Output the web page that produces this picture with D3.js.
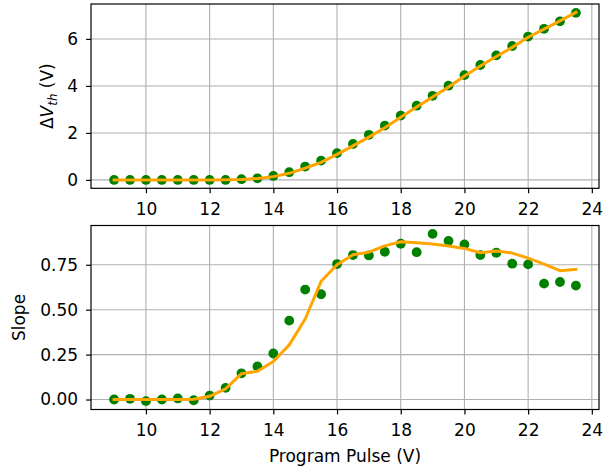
<!DOCTYPE html>
<html>
<head>
<meta charset="utf-8">
<script src="https://cdn.jsdelivr.net/npm/d3@7"></script>
<style>
html,body{margin:0;padding:0;background:#fff;}
svg{display:block;font-family:"DejaVu Sans",sans-serif;}
</style>
</head>
<body>
<svg id="chart" width="610" height="468"></svg>
<script>
// ---- data ----
const pulses = [9,9.5,10,10.5,11,11.5,12,12.5,13,13.5,14,14.5,15,15.5,16,16.5,17,17.5,18,18.5,19,19.5,20,20.5,21,21.5,22,22.5,23,23.5];
const dvthMeasured = [0,0,0,0,0,0,0,0,0.03,0.07,0.17,0.33,0.57,0.82,1.14,1.53,1.92,2.31,2.74,3.16,3.58,4.01,4.46,4.89,5.30,5.70,6.10,6.43,6.75,7.11];
const dvthFit = [0,0,0,0,0,0,0,0.005,0.02,0.06,0.14,0.28,0.50,0.75,1.09,1.45,1.82,2.22,2.67,3.10,3.53,3.95,4.42,4.85,5.25,5.64,6.07,6.42,6.77,7.13];
const slopeMeasured = [0,0.004,-0.009,0,0.006,-0.004,0.022,0.065,0.146,0.184,0.256,0.439,0.612,0.586,0.754,0.804,0.802,0.822,0.867,0.820,0.922,0.883,0.863,0.804,0.817,0.756,0.752,0.645,0.654,0.634];
const slopeFit = [0,0,0,0,0,0.002,0.018,0.059,0.144,0.157,0.212,0.304,0.448,0.658,0.750,0.806,0.820,0.855,0.878,0.872,0.865,0.855,0.841,0.817,0.826,0.815,0.787,0.754,0.717,0.724];
const xTicks = [10,12,14,16,18,20,22,24];
const yTicksTop = [0,2,4,6];
const yTicksBottom = [0,0.25,0.5,0.75];

const svg = d3.select("#chart");
const L = 91, R = 599;
const FS = 17;
const tickLen = 4.9;

function pad(ext){const s=ext[1]-ext[0];return [ext[0]-0.05*s, ext[1]+0.05*s];}
const xDom = pad(d3.extent(pulses));
const x = d3.scaleLinear().domain(xDom).range([L, R]);

function panel(y0, y1, meas, fit, yTicks, yFmt){
  const all = meas.concat(fit);
  const y = d3.scaleLinear().domain(pad(d3.extent(all))).range([y1, y0]);
  const g = svg.append("g");
  // grid
  g.append("g").selectAll("line").data(xTicks).join("line")
    .attr("x1", d=>x(d)).attr("x2", d=>x(d)).attr("y1", y0).attr("y2", y1)
    .attr("stroke", "#b0b0b0").attr("stroke-width", 1.1);
  g.append("g").selectAll("line").data(yTicks).join("line")
    .attr("x1", L).attr("x2", R).attr("y1", d=>y(d)).attr("y2", d=>y(d))
    .attr("stroke", "#b0b0b0").attr("stroke-width", 1.1);
  // points
  g.append("g").selectAll("circle").data(pulses).join("circle")
    .attr("cx", (d)=>x(d)).attr("cy", (d,i)=>y(meas[i])).attr("r", 4.9)
    .attr("fill", "#008000");
  // fit line
  g.append("path").datum(pulses)
    .attr("d", d3.line().x(d=>x(d)).y((d,i)=>y(fit[i])))
    .attr("fill", "none").attr("stroke", "#ffa500").attr("stroke-width", 3)
    .attr("stroke-linejoin", "round").attr("stroke-linecap", "square");
  // frame
  g.append("rect").attr("x", L).attr("y", y0).attr("width", R-L).attr("height", y1-y0)
    .attr("fill", "none").attr("stroke", "#000").attr("stroke-width", 1.2);
  // axes
  const xa = d3.axisBottom(x).tickValues(xTicks).tickSize(tickLen).tickPadding(10)
    .tickFormat(d3.format("d"));
  const gx = g.append("g").attr("transform", `translate(0,${y1})`).call(xa);
  const ya = d3.axisLeft(y).tickValues(yTicks).tickSize(tickLen).tickPadding(8).tickFormat(yFmt);
  const gy = g.append("g").attr("transform", `translate(${L},0)`).call(ya);
  [gx, gy].forEach(a=>{
    a.select(".domain").remove();
    a.selectAll(".tick line").attr("stroke", "#000").attr("stroke-width", 1.2);
    a.selectAll(".tick text").attr("fill", "#000").attr("font-size", FS)
      .attr("font-family", "DejaVu Sans, sans-serif");
  });
  return {y, g};
}

const panelTop = panel(4, 188.3, dvthMeasured, dvthFit, yTicksTop, d3.format("d"));
const panelBot = panel(225.5, 409.5, slopeMeasured, slopeFit, yTicksBottom, d3.format(".2f"));

// y label top: ΔV_th (V)
const t1 = svg.append("text")
  .attr("transform", `translate(53,${(4+188.3)/2}) rotate(-90)`)
  .attr("text-anchor", "middle").attr("font-size", FS).attr("fill", "#000");
t1.append("tspan").text("Δ");
t1.append("tspan").attr("font-style", "italic").text("V");
t1.append("tspan").attr("font-style", "italic").attr("font-size", FS*0.7).attr("dy", 3.5).text("th");
t1.append("tspan").attr("dy", -3.5).text(" (V)");

svg.append("text")
  .attr("transform", `translate(25,${(225.5+409.5)/2}) rotate(-90)`)
  .attr("text-anchor", "middle").attr("font-size", FS).attr("fill", "#000").text("Slope");

svg.append("text")
  .attr("x", (L+R)/2).attr("y", 461.5)
  .attr("text-anchor", "middle").attr("font-size", FS).attr("fill", "#000").text("Program Pulse (V)");
</script>
</body>
</html>
